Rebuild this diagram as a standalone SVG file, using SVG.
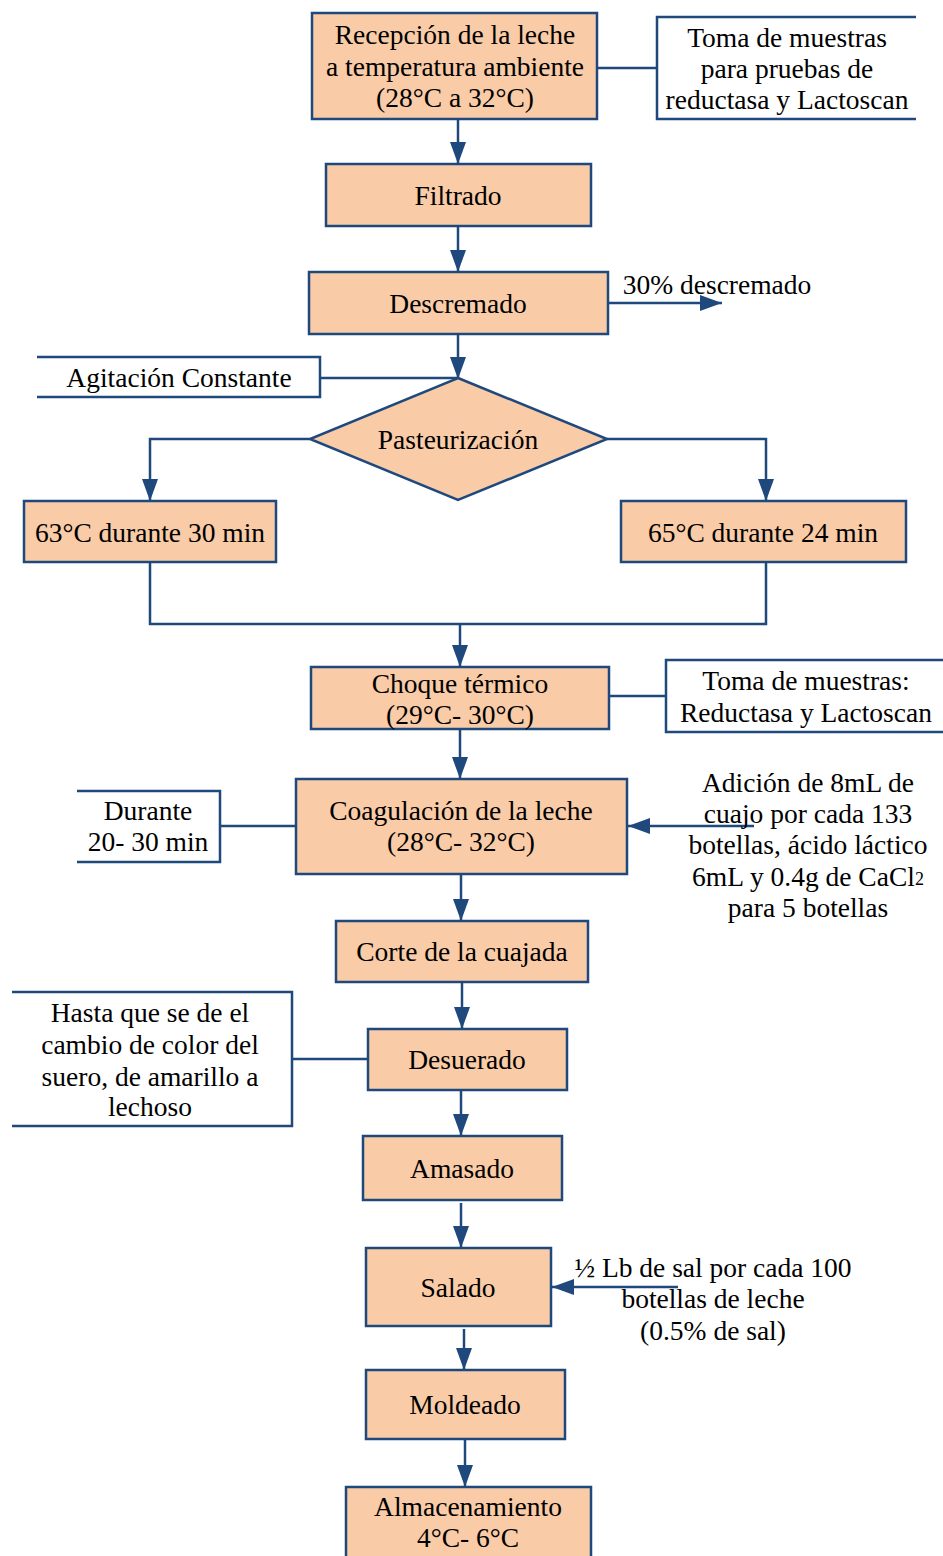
<svg xmlns="http://www.w3.org/2000/svg" width="943" height="1556" viewBox="0 0 943 1556">
  <style>
    .step { fill: #F9CBA7; stroke: #1F497D; stroke-width: 2.5; }
    .edge { fill: none; stroke: #1F497D; stroke-width: 2.5; }
    .arrow { fill: none; stroke: #1F497D; stroke-width: 2.5; marker-end: url(#head); }
    text { font-family: 'Liberation Serif', 'Times New Roman', 'DejaVu Serif', serif; font-size: 27.5px; fill: #000000; text-anchor: middle; dominant-baseline: central; }
  </style>
  <defs>
    <marker id="head" markerUnits="userSpaceOnUse" markerWidth="24" markerHeight="16" refX="22" refY="8" orient="auto">
      <path d="M0,0 L22,8 L0,16 Z" fill="#1F497D"/>
    </marker>
  </defs>

  <rect width="943" height="1556" fill="#FFFFFF"/>

  <g id="connectors">
    <line class="arrow" x1="458" y1="119" x2="458" y2="164"/>
    <line class="arrow" x1="458" y1="226" x2="458" y2="272"/>
    <line class="arrow" x1="608" y1="303" x2="722" y2="303"/>
    <line class="arrow" x1="458" y1="334" x2="458" y2="379"/>
    <line class="edge" x1="597" y1="68" x2="657" y2="68"/>
    <line class="edge" x1="320" y1="378" x2="458" y2="378"/>
    <polyline class="arrow" points="310,439 150,439 150,501"/>
    <polyline class="arrow" points="607,439 766,439 766,501"/>
    <polyline class="edge" points="150,562 150,624 766,624 766,562"/>
    <line class="arrow" x1="460" y1="624" x2="460" y2="667"/>
    <line class="edge" x1="609" y1="696" x2="666" y2="696"/>
    <line class="arrow" x1="460" y1="729" x2="460" y2="779"/>
    <line class="edge" x1="220" y1="826" x2="296" y2="826"/>
    <line class="arrow" x1="754" y1="826" x2="628" y2="826"/>
    <line class="arrow" x1="461" y1="874" x2="461" y2="921"/>
    <line class="arrow" x1="462" y1="982" x2="462" y2="1029"/>
    <line class="edge" x1="292" y1="1059" x2="368" y2="1059"/>
    <line class="arrow" x1="461" y1="1090" x2="461" y2="1136"/>
    <line class="arrow" x1="461" y1="1203" x2="461" y2="1248"/>
    <line class="arrow" x1="678" y1="1287" x2="552" y2="1287"/>
    <line class="arrow" x1="464" y1="1329" x2="464" y2="1370"/>
    <line class="arrow" x1="465" y1="1439" x2="465" y2="1487"/>
  </g>

  <g id="recepcion">
    <rect class="step" x="312" y="13" width="285" height="106"/>
    <text x="455" y="34">Recepción de la leche</text>
    <text x="455" y="66">a temperatura ambiente</text>
    <text x="455" y="97">(28°C a 32°C)</text>
  </g>

  <g id="toma-muestras-1">
    <path class="edge" d="M916,17 H657 V119 H916"/>
    <text x="787" y="37">Toma de muestras</text>
    <text x="787" y="68">para pruebas de</text>
    <text x="787" y="99">reductasa y Lactoscan</text>
  </g>

  <g id="filtrado">
    <rect class="step" x="326" y="164" width="265" height="62"/>
    <text x="458" y="195">Filtrado</text>
  </g>

  <g id="descremado">
    <rect class="step" x="309" y="272" width="299" height="62"/>
    <text x="458" y="303">Descremado</text>
  </g>

  <g id="descremado-salida">
    <text x="717" y="284">30% descremado</text>
  </g>

  <g id="agitacion">
    <path class="edge" d="M37,357 H320 V397 H37"/>
    <text x="179" y="377">Agitación Constante</text>
  </g>

  <g id="pasteurizacion">
    <polygon class="step" points="458,378 607,439 458,500 310,439"/>
    <text x="458" y="439">Pasteurización</text>
  </g>

  <g id="pasteurizacion-63">
    <rect class="step" x="24" y="501" width="252" height="61"/>
    <text x="150" y="532">63°C durante 30 min</text>
  </g>

  <g id="pasteurizacion-65">
    <rect class="step" x="621" y="501" width="285" height="61"/>
    <text x="763" y="532">65°C durante 24 min</text>
  </g>

  <g id="choque-termico">
    <rect class="step" x="311" y="667" width="298" height="62"/>
    <text x="460" y="683">Choque térmico</text>
    <text x="460" y="714">(29°C- 30°C)</text>
  </g>

  <g id="toma-muestras-2">
    <rect class="edge" x="666" y="660" width="290" height="72"/>
    <text x="806" y="680">Toma de muestras:</text>
    <text x="806" y="712">Reductasa y Lactoscan</text>
  </g>

  <g id="coagulacion">
    <rect class="step" x="296" y="779" width="331" height="95"/>
    <text x="461" y="810">Coagulación de la leche</text>
    <text x="461" y="841">(28°C- 32°C)</text>
  </g>

  <g id="durante">
    <path class="edge" d="M77,791 H220 V862 H77"/>
    <text x="148" y="810">Durante</text>
    <text x="148" y="841">20- 30 min</text>
  </g>

  <g id="adicion-cuajo">
    <text x="808" y="782">Adición de 8mL de</text>
    <text x="808" y="813">cuajo por cada 133</text>
    <text x="808" y="844">botellas, ácido láctico</text>
    <text x="808" y="876">6mL y 0.4g de CaCl<tspan font-size="18" dy="3">2</tspan></text>
    <text x="808" y="907">para 5 botellas</text>
  </g>

  <g id="corte">
    <rect class="step" x="336" y="921" width="252" height="61"/>
    <text x="462" y="951">Corte de la cuajada</text>
  </g>

  <g id="desuerado">
    <rect class="step" x="368" y="1029" width="199" height="61"/>
    <text x="467" y="1059">Desuerado</text>
  </g>

  <g id="hasta-que">
    <path class="edge" d="M12,992 H292 V1126 H12"/>
    <text x="150" y="1012">Hasta que se de el</text>
    <text x="150" y="1044">cambio de color del</text>
    <text x="150" y="1076">suero, de amarillo a</text>
    <text x="150" y="1106">lechoso</text>
  </g>

  <g id="amasado">
    <rect class="step" x="363" y="1136" width="199" height="64"/>
    <text x="462" y="1168">Amasado</text>
  </g>

  <g id="salado">
    <rect class="step" x="366" y="1248" width="185" height="78"/>
    <text x="458" y="1287">Salado</text>
  </g>

  <g id="sal-dosis">
    <text x="713" y="1267">½ Lb de sal por cada 100</text>
    <text x="713" y="1298">botellas de leche</text>
    <text x="713" y="1330">(0.5% de sal)</text>
  </g>

  <g id="moldeado">
    <rect class="step" x="366" y="1370" width="199" height="69"/>
    <text x="465" y="1404">Moldeado</text>
  </g>

  <g id="almacenamiento">
    <rect class="step" x="346" y="1487" width="245" height="75"/>
    <text x="468" y="1506">Almacenamiento</text>
    <text x="468" y="1537">4°C- 6°C</text>
  </g>
</svg>
